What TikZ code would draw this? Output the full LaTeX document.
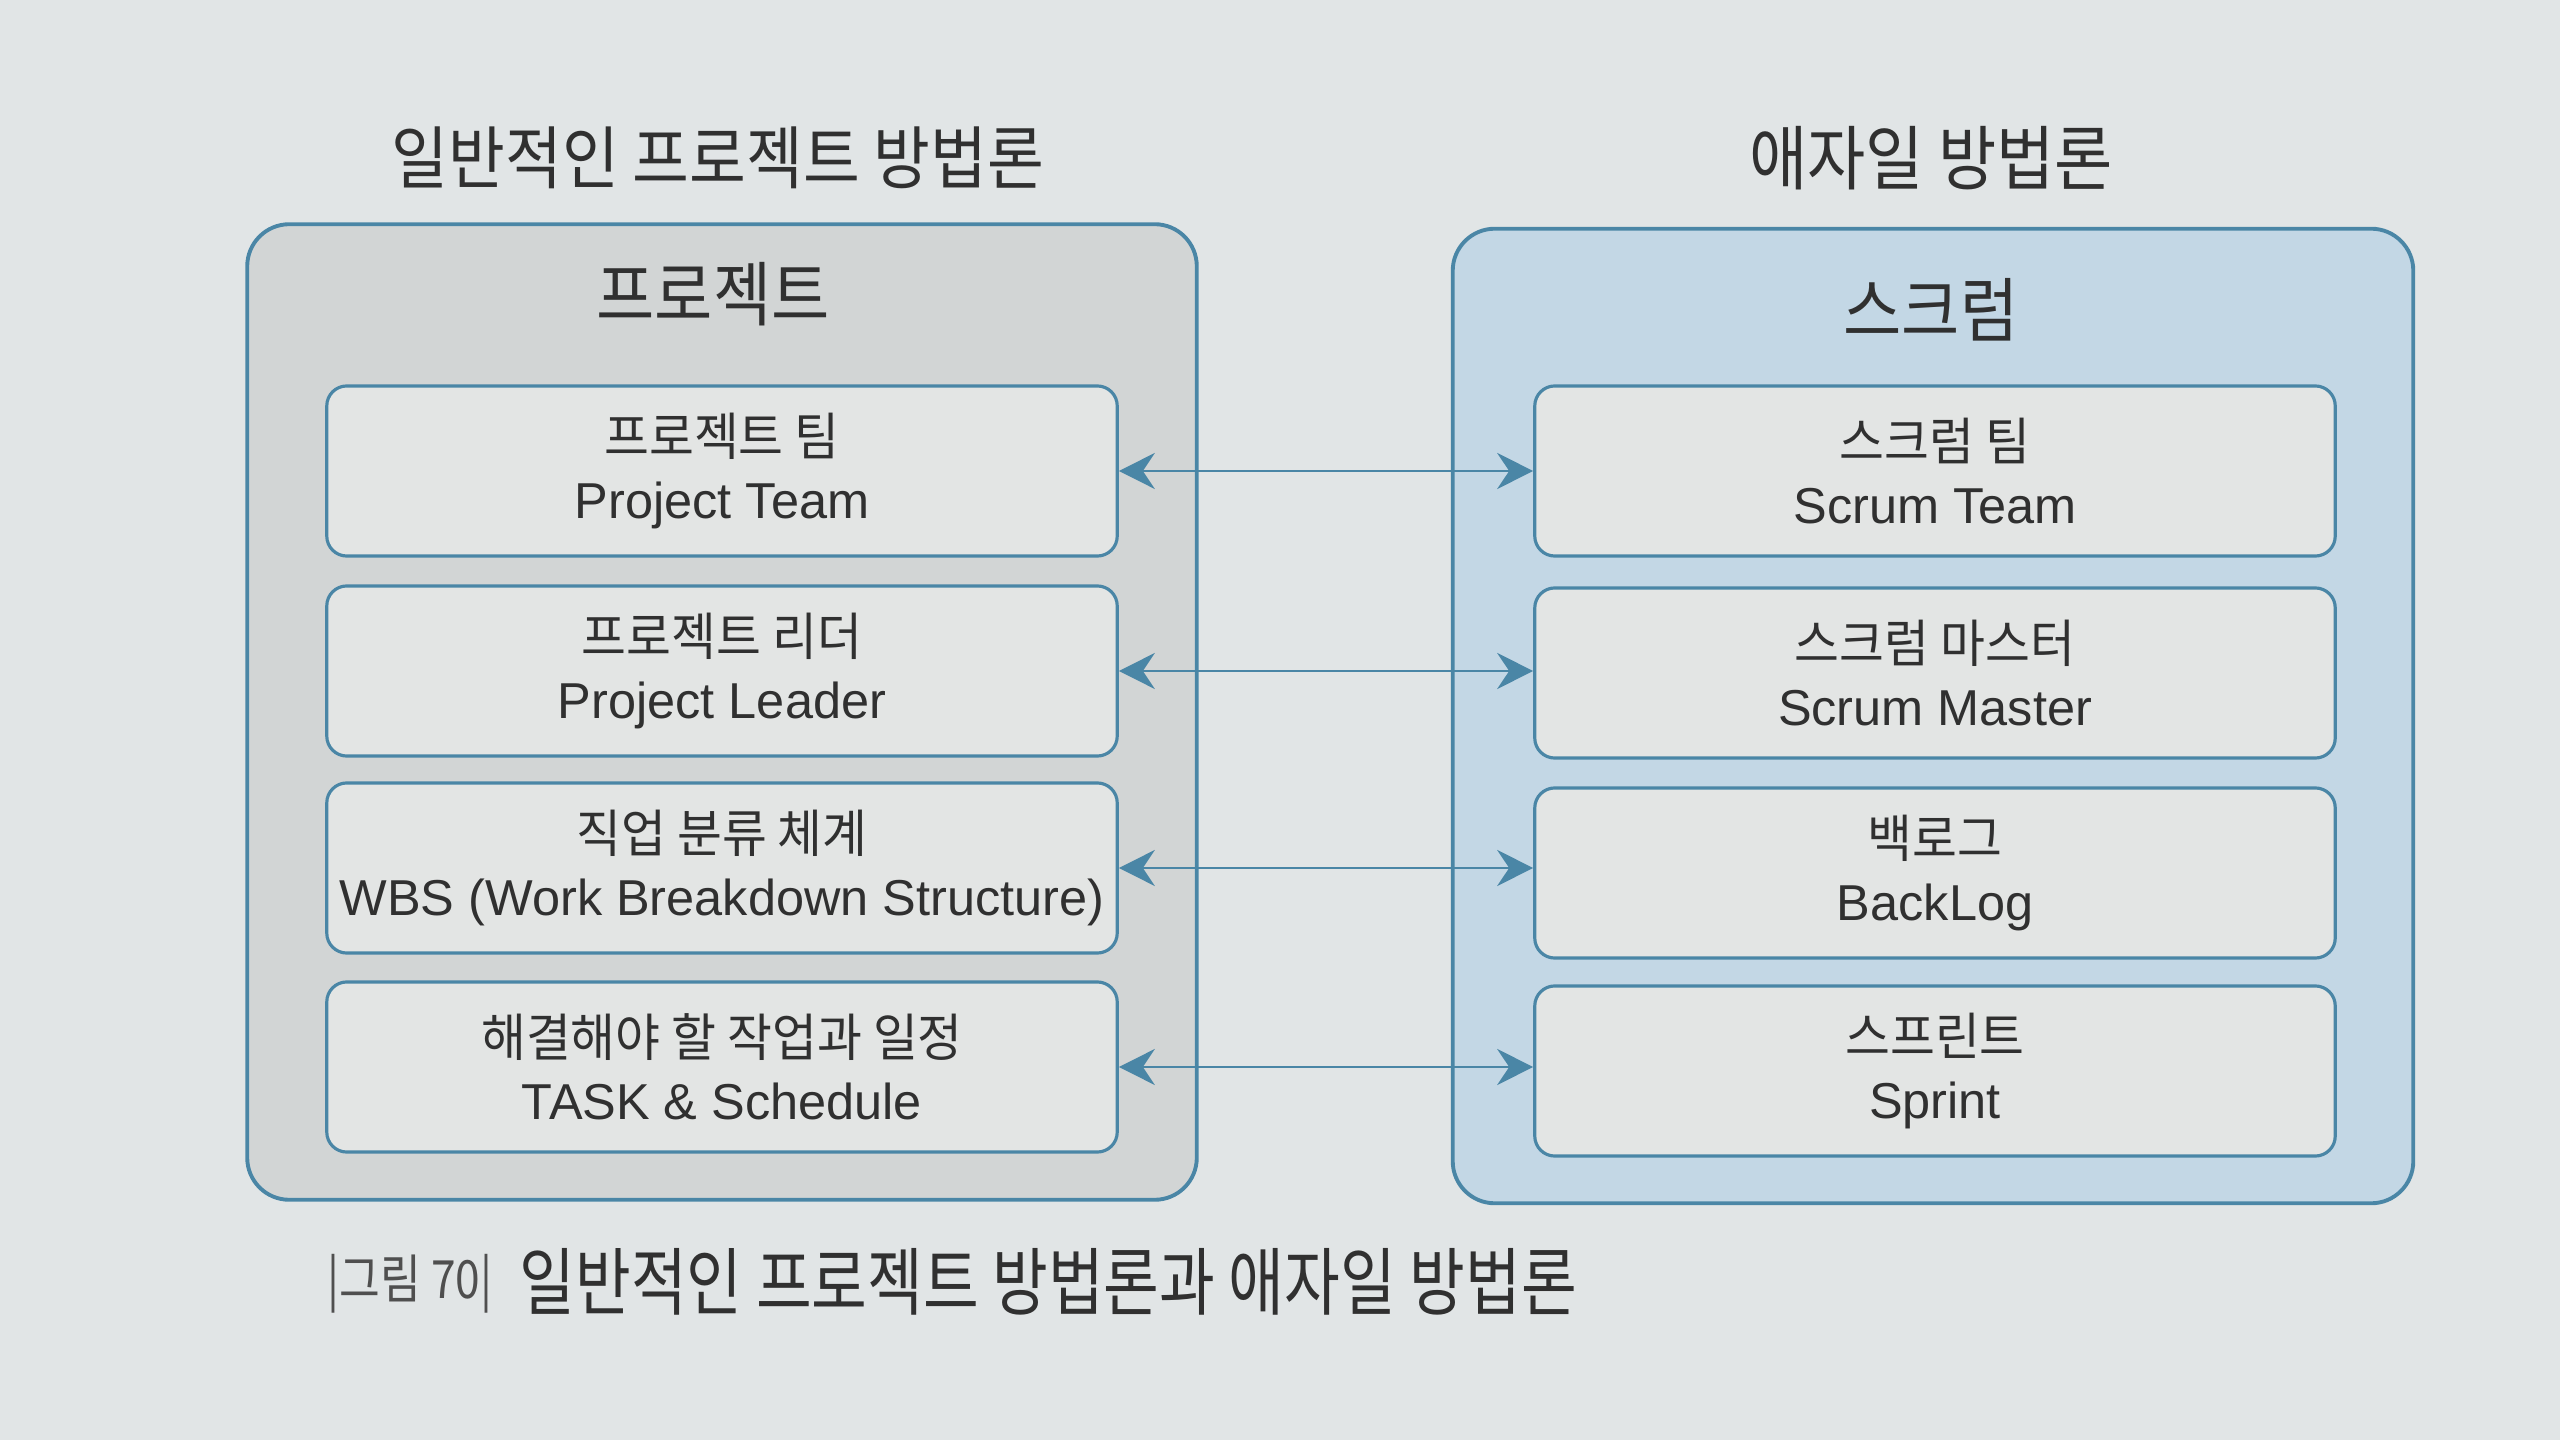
\documentclass[tikz,border=0pt]{standalone}
\usepackage{fontspec}
\setmainfont{Liberation Sans}
\newfontfamily\kr[FakeStretch=0.95]{Noto Sans CJK KR}
\newfontfamily\krh[FakeStretch=0.9]{Noto Sans CJK KR}
\newfontfamily\krc[FakeStretch=0.82]{Noto Sans CJK KR}
\newfontfamily\krs[FakeStretch=0.84]{Noto Sans CJK KR}
\usetikzlibrary{arrows.meta}
\definecolor{pagebg}{HTML}{E1E5E6}
\definecolor{edge}{HTML}{4A86A6}
\definecolor{lfill}{HTML}{D2D5D5}
\definecolor{rfill}{HTML}{C3D7E5}
\definecolor{ifill}{HTML}{E3E5E4}
\definecolor{txt}{HTML}{303030}
\tikzset{
  outerbox/.style={draw=edge, line width=1.1pt, rounded corners=0.42cm},
  innerbox/.style={draw=edge, fill=ifill, line width=0.9pt, rounded corners=0.2cm,
    minimum height=1.7cm, align=center, text=txt, inner sep=0pt,
    font=\fontsize{14.35pt}{18pt}\selectfont},
  link/.style={draw=edge, line width=0.7pt, {Stealth[length=0.36cm,width=0.36cm,inset=0.12cm]}-{Stealth[length=0.36cm,width=0.36cm,inset=0.12cm]}},
  heading/.style={text=txt, font=\krh\fontsize{20pt}{22pt}\selectfont, inner sep=0pt}
}
\newcommand{\kl}[1]{{\kr\fontsize{14.6pt}{18pt}\selectfont #1}}
\begin{document}
\begin{tikzpicture}[x=0.01cm,y=-0.01cm]
\fill[pagebg] (0,0) rectangle (2560,1440);
\useasboundingbox (0,0) rectangle (2560,1440);

% titles
\node[heading, font=\krh\fontsize{19.5pt}{22pt}\selectfont] (tl) at (718,158) {일반적인 프로젝트 방법론};
\node[heading] (tr) at (1931,158) {애자일 방법론};

% outer boxes
\node[outerbox, fill=lfill, minimum width=9.49cm, minimum height=9.75cm] (lo) at (722,712) {};
\node[outerbox, fill=rfill, minimum width=9.60cm, minimum height=9.74cm] (ro) at (1933,716) {};

\node[heading] (lt) at (713,294) {프로젝트};
\node[heading] (rt) at (1931,310) {스크럼};

% left inner
\node[innerbox, minimum width=7.9cm] (l1) at (722,471) {\kl{프로젝트 팀}\\Project Team};
\node[innerbox, minimum width=7.9cm] (l2) at (722,671) {\kl{프로젝트 리더}\\Project Leader};
\node[innerbox, minimum width=7.9cm] (l3) at (722,868) {\kl{직업 분류 체계}\\WBS (Work Breakdown Structure)};
\node[innerbox, minimum width=7.9cm] (l4) at (722,1067) {\kl{해결해야 할 작업과 일정}\\TASK \& Schedule};

% right inner
\node[innerbox, minimum width=8.0cm] (r1) at (1935,471) {\kl{스크럼 팀}\\Scrum Team};
\node[innerbox, minimum width=8.0cm] (r2) at (1935,673) {\kl{스크럼 마스터}\\Scrum Master};
\node[innerbox, minimum width=8.0cm] (r3) at (1935,873) {\kl{백로그}\\BackLog};
\node[innerbox, minimum width=8.0cm] (r4) at (1935,1071) {\kl{스프린트}\\Sprint};

% connectors
\draw[link] (l1.east) -- (l1.east -| r1.west);
\draw[link] (l2.east) -- (l2.east -| r2.west);
\draw[link] (l3.east) -- (l3.east -| r3.west);
\draw[link] (l4.east) -- (l4.east -| r4.west);

% caption
\node[anchor=west, text=txt!85, inner sep=0pt, font=\krs\fontsize{15pt}{18pt}\selectfont] (cn) at (327,1284) {|그림 70|};
\node[anchor=west, text=txt, inner sep=0pt, font=\krc\fontsize{21pt}{24pt}\selectfont] (ct) at (519,1282) {일반적인 프로젝트 방법론과 애자일 방법론};
\end{tikzpicture}
\end{document}
